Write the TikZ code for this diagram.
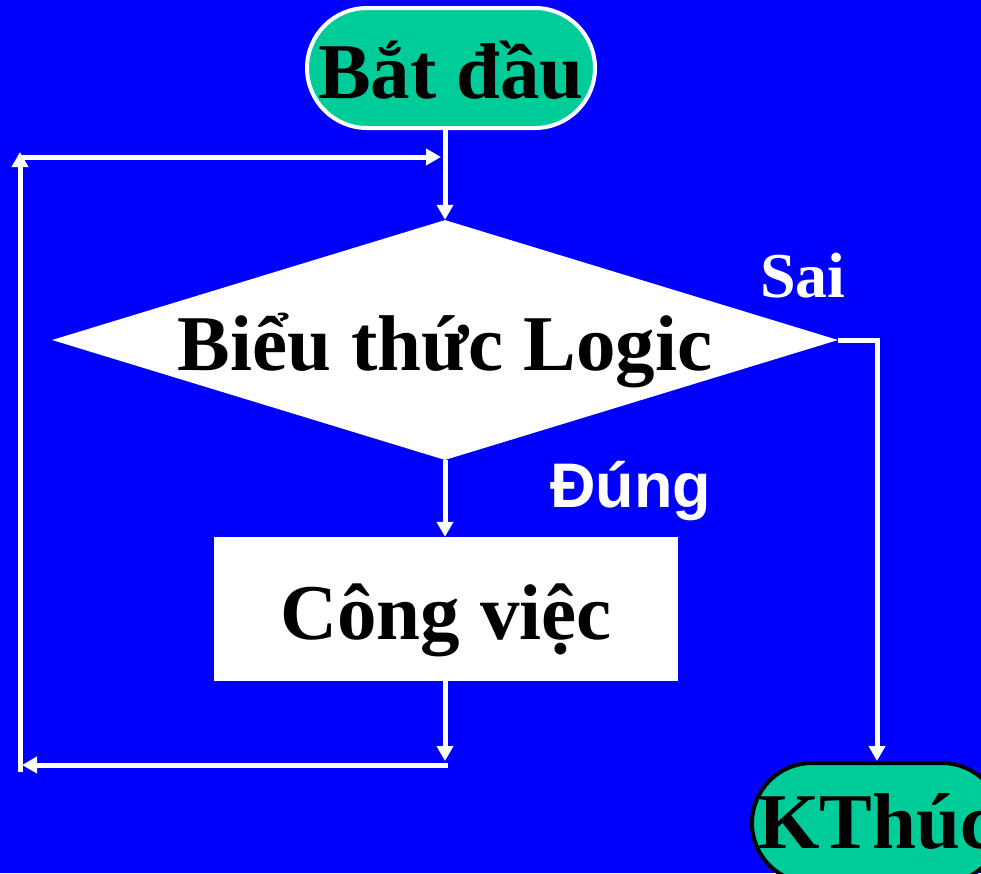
\documentclass[tikz,border=0pt]{standalone}
\usepackage{fontspec}
\setmainfont{Liberation Serif}
\newfontfamily\sansfnt{Liberation Sans}
\usetikzlibrary{arrows.meta,shapes.geometric}
\definecolor{bgblue}{RGB}{0,0,255}
\definecolor{termgreen}{RGB}{0,204,153}
\newcommand{\bigfnt}{\fontsize{79}{80}\selectfont\bfseries}
\tikzset{
  flowarr/.style = {-{Triangle[length=15pt,width=16pt]},white,line width=5pt},
  termbox/.style = {rectangle,rounded corners=60pt,fill=termgreen,line width=4pt,
                    minimum height=120pt,inner sep=0pt,font=\bigfnt,
                    text height=60pt,text depth=0pt},
  decbox/.style  = {diamond,aspect=3.27,fill=white,inner sep=0pt,
                    minimum width=786pt,minimum height=240pt,font=\bigfnt,
                    text height=60pt,text depth=0pt},
  procbox/.style = {rectangle,fill=white,inner sep=0pt,
                    minimum width=464pt,minimum height=144pt,font=\bigfnt,
                    text height=60pt,text depth=0pt},
  lbltext/.style = {anchor=base west,inner sep=0pt,white}
}

\begin{document}
\begin{tikzpicture}[x=1pt,y=-1pt]
  \fill[bgblue] (0,0) rectangle (981,873);
  \useasboundingbox (0,0) rectangle (981,873);
  \node[termbox,draw=white,minimum width=288pt] (start) at (451,68) {Bắt đầu};
  \node[decbox] (cond) at (445,340) {Biểu thức Logic};
  \node[procbox] (work) at (446,609) {Công việc};
  \node[termbox,draw=black,minimum width=250pt,text height=50pt] (stop) at (877,823) {KThúc};
  \node[lbltext,font=\fontsize{64}{64}\selectfont\bfseries] (sai) at (760,297) {Sai};
  \node[lbltext,font=\sansfnt\fontsize{63}{63}\selectfont\bfseries] (dung) at (550,507) {Đúng};
  % loop corners
  \coordinate (ldown) at (445,761);
  \coordinate (lbr) at (448,765);
  \coordinate (lbl) at (22,765);
  \coordinate (lbot) at (20,772);
  \coordinate (ltop) at (20,152);
  \coordinate (ltl) at (18,157);
  \coordinate (ltr) at (441,157);
  \draw[flowarr] (start.south -| cond.north) -- (cond.north);
  \draw[flowarr] (cond.south) -- (cond.south |- work.north);
  \draw[flowarr] (cond.east) -| (stop.north);
  \draw[flowarr] (work.south -| ldown) -- (ldown);
  \draw[flowarr] (lbr) -- (lbl);
  \draw[flowarr] (lbot) -- (ltop);
  \draw[flowarr] (ltl) -- (ltr);
\end{tikzpicture}
\end{document}
